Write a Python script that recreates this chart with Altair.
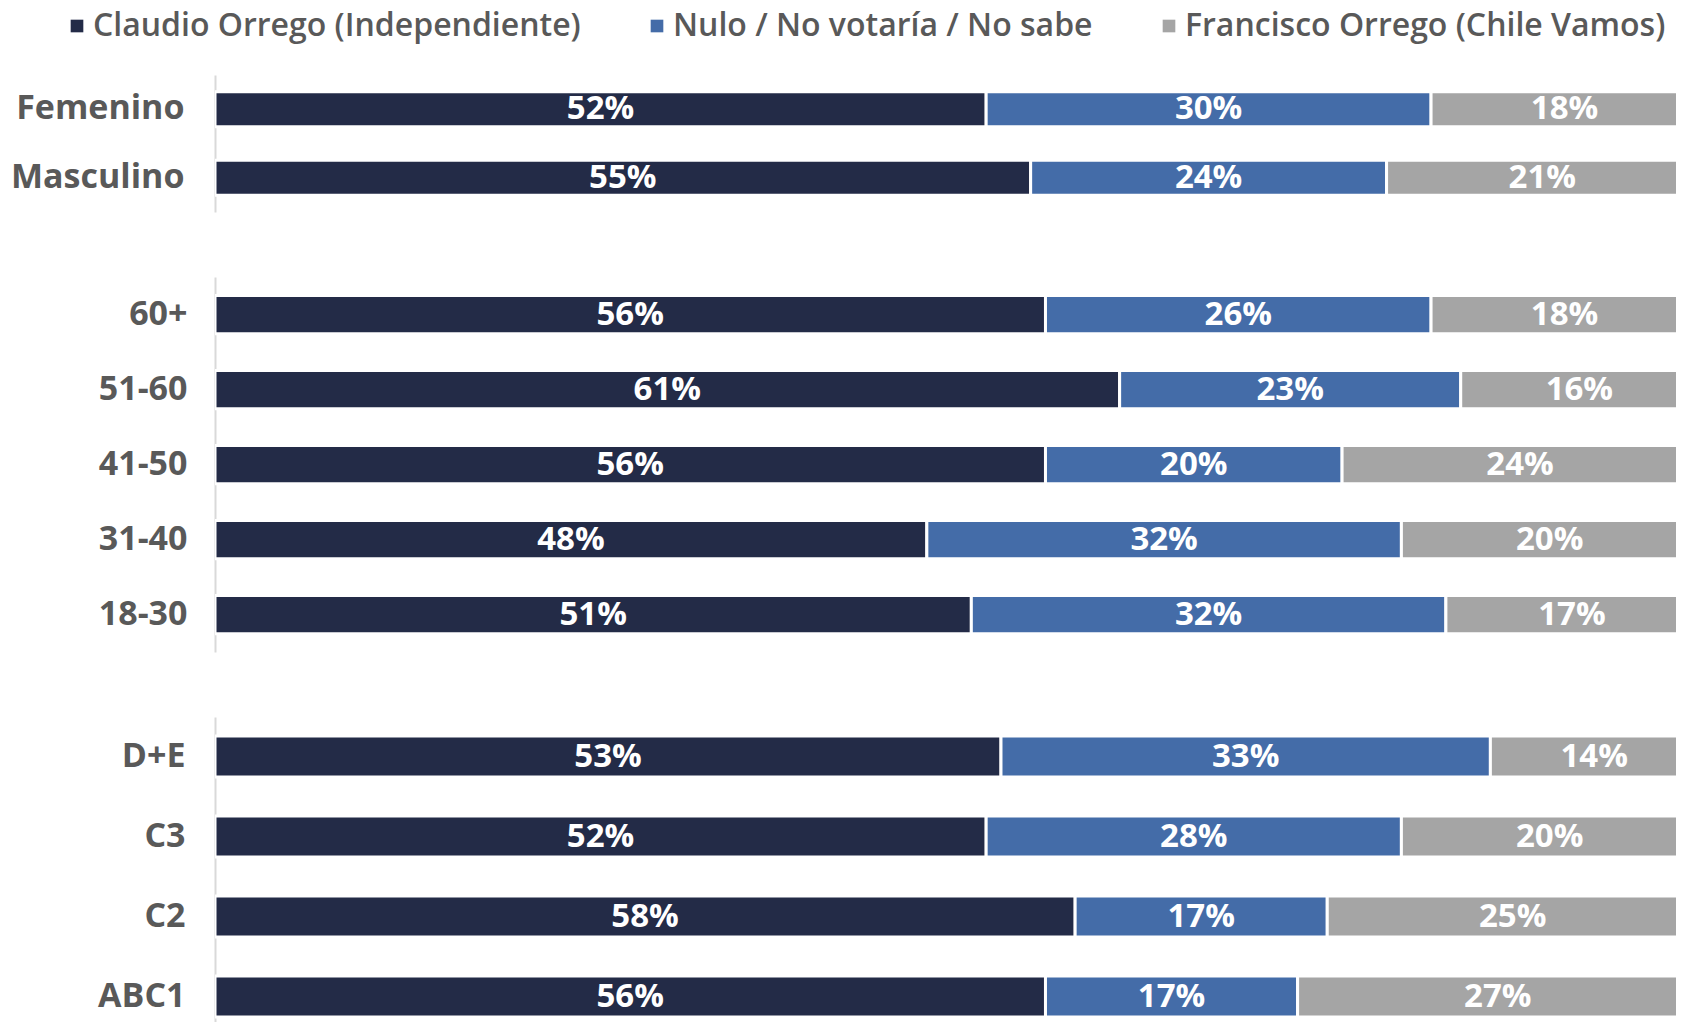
import altair as alt
import pandas as pd

series = ["Claudio Orrego (Independiente)", "Nulo / No votaría / No sabe", "Francisco Orrego (Chile Vamos)"]
colors = ["#232B47", "#446CA8", "#A5A5A5"]

cats_gender = ["Femenino", "Masculino"]
claudio_gender = [52, 55]
nulo_gender = [30, 24]
francisco_gender = [18, 21]

cats_age = ["60+", "51-60", "41-50", "31-40", "18-30"]
claudio_age = [56, 61, 56, 48, 51]
nulo_age = [26, 23, 20, 32, 32]
francisco_age = [18, 16, 24, 20, 17]

cats_gse = ["D+E", "C3", "C2", "ABC1"]
claudio_gse = [53, 52, 58, 56]
nulo_gse = [33, 28, 17, 17]
francisco_gse = [14, 20, 25, 27]

PLOT_W = 1461
XMAX = PLOT_W / 14.83
FONT = "Open Sans"


def make_df(cats, a, b, c):
    rows = []
    for i, cat in enumerate(cats):
        start = 0
        for k, (s, v) in enumerate(zip(series, [a[i], b[i], c[i]])):
            rows.append(dict(cat=cat, serie=s, order=k, value=v, start=start,
                             end=start + v, mid=start + v / 2, label=f"{v}%"))
            start += v
    return pd.DataFrame(rows)


legend = alt.Legend(
    orient="none", legendX=-154, legendY=-65, direction="horizontal", title=None,
    symbolType="square", symbolSize=160, symbolStrokeWidth=0,
    labelFont=FONT, labelFontSize=32, labelFontWeight=600, labelColor="#595959",
    labelLimit=1000, columnPadding=60, labelOffset=0, padding=0,
)


def panel(df, cats, height, pin, pout, align=0.5, lpad=31):
    y = alt.Y("cat:N", sort=cats,
              scale=alt.Scale(paddingInner=pin, paddingOuter=pout, align=align),
              axis=alt.Axis(title=None, ticks=False, labelPadding=lpad, labelFont=FONT,
                            labelFontSize=34, labelFontWeight="bold", labelColor="#595959",
                            domainColor="#D9D9D9", domainWidth=2, grid=False))
    xs = alt.Scale(domain=[0, XMAX], nice=False, zero=False)
    bars = alt.Chart(df).mark_bar(clip=True, stroke="white", strokeWidth=3).encode(
        x=alt.X("start:Q", scale=xs, axis=None),
        x2="end:Q",
        y=y,
        color=alt.Color("serie:N", sort=series,
                        scale=alt.Scale(domain=series, range=colors), legend=legend),
    )
    text = alt.Chart(df).mark_text(color="white", font=FONT, fontSize=33,
                                   fontWeight="bold", align="center", baseline="middle").encode(
        x=alt.X("mid:Q", scale=xs, axis=None),
        y=y,
        text="label:N",
    )
    return alt.layer(bars, text).properties(width=PLOT_W, height=height)


p1 = panel(make_df(cats_gender, claudio_gender, nulo_gender, francisco_gender),
           cats_gender, 137, 0.49, 0.245, lpad=31)
p2 = panel(make_df(cats_age, claudio_age, nulo_age, francisco_age),
           cats_age, 375, 0.49, 0.245, lpad=28)
p3 = panel(make_df(cats_gse, claudio_gse, nulo_gse, francisco_gse),
           cats_gse, 305, 0.49, 0.15125, 0.79, lpad=30)

chart = alt.vconcat(p1, p2, p3, spacing=65).properties(
    padding={"left": 2, "top": 2, "right": 0, "bottom": 0}
).configure_view(stroke=None)

chart.save("out.html", embed_options={"renderer": "svg", "actions": False})
